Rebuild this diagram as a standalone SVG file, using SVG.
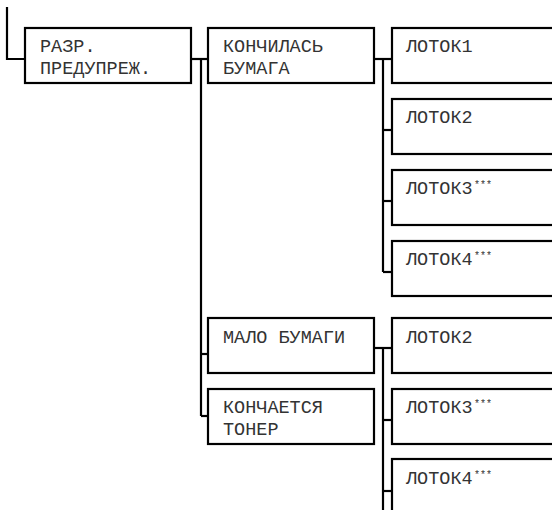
<svg xmlns="http://www.w3.org/2000/svg" width="552" height="510" viewBox="0 0 552 510">
<style>
  .box { fill: #ffffff; stroke: #000000; stroke-width: 2.2; }
  .wire { fill: none; stroke: #000000; stroke-width: 2.2; }
  .t { font-family: "Liberation Mono", "Courier New", monospace; font-size: 18.5px; fill: #333333; }
  .s { font-family: "Liberation Mono", "Courier New", monospace; font-size: 10px; fill: #333333; }
</style>
<rect x="0" y="0" width="552" height="510" fill="#ffffff"/>
<g id="connectors">
  <path class="wire" d="M7 7 V59 H25"/>
  <path class="wire" d="M191 59 H208"/>
  <path class="wire" d="M201 59 V416"/>
  <path class="wire" d="M201 354 H208"/>
  <path class="wire" d="M201 416 H208"/>
  <path class="wire" d="M374 59 H392"/>
  <path class="wire" d="M383 59 V272"/>
  <path class="wire" d="M383 130 H392"/>
  <path class="wire" d="M383 201 H392"/>
  <path class="wire" d="M383 272 H392"/>
  <path class="wire" d="M374 348 H392"/>
  <path class="wire" d="M383 348 V510"/>
  <path class="wire" d="M383 420 H392"/>
  <path class="wire" d="M383 491 H392"/>
</g>
<g id="n-razr">
  <rect class="box" x="25" y="28" width="166" height="55"/>
  <text class="t" x="40" y="52">РАЗР.</text>
  <text class="t" x="40" y="74">ПРЕДУПРЕЖ.</text>
</g>
<g id="n-konchilas">
  <rect class="box" x="208" y="28" width="166" height="55"/>
  <text class="t" x="223" y="52">КОНЧИЛАСЬ</text>
  <text class="t" x="223" y="74">БУМАГА</text>
</g>
<g id="n-lotok1a">
  <rect class="box" x="392" y="28" width="180" height="55"/>
  <text class="t" x="406" y="52">ЛОТОК1</text>
</g>
<g id="n-lotok2a">
  <rect class="box" x="392" y="99" width="180" height="55"/>
  <text class="t" x="406" y="123">ЛОТОК2</text>
</g>
<g id="n-lotok3a">
  <rect class="box" x="392" y="170" width="180" height="55"/>
  <text class="t" x="406" y="194">ЛОТОК3</text>
  <text class="s" x="474" y="187.5">***</text>
</g>
<g id="n-lotok4a">
  <rect class="box" x="392" y="241" width="180" height="55"/>
  <text class="t" x="406" y="265">ЛОТОК4</text>
  <text class="s" x="474" y="258.5">***</text>
</g>
<g id="n-malo">
  <rect class="box" x="208" y="318" width="166" height="55"/>
  <text class="t" x="223" y="343">МАЛО БУМАГИ</text>
</g>
<g id="n-konchaetsya">
  <rect class="box" x="208" y="389" width="166" height="55"/>
  <text class="t" x="223" y="413">КОНЧАЕТСЯ</text>
  <text class="t" x="223" y="435">ТОНЕР</text>
</g>
<g id="n-lotok2b">
  <rect class="box" x="392" y="318" width="180" height="55"/>
  <text class="t" x="406" y="343">ЛОТОК2</text>
</g>
<g id="n-lotok3b">
  <rect class="box" x="392" y="389" width="180" height="55"/>
  <text class="t" x="406" y="413">ЛОТОК3</text>
  <text class="s" x="474" y="406.5">***</text>
</g>
<g id="n-lotok4b">
  <rect class="box" x="392" y="459" width="180" height="80"/>
  <text class="t" x="406" y="484">ЛОТОК4</text>
  <text class="s" x="474" y="477.5">***</text>
</g>
</svg>
